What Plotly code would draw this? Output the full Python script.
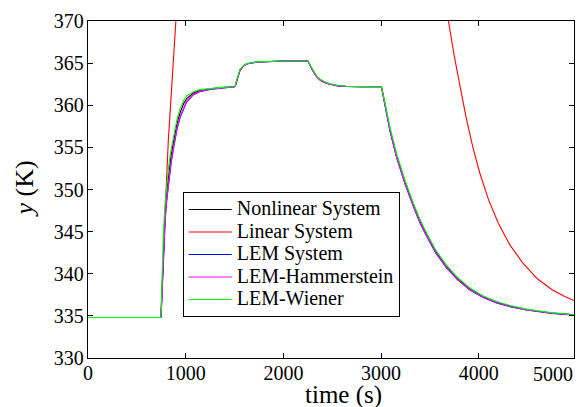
import plotly.graph_objects as go

# ---- data ----
t_main = [0, 747, 752, 760, 772, 790, 805, 825, 850, 873, 910, 942, 980, 1010, 1080, 1146,
          1250, 1400, 1500, 1508, 1521, 1540, 1556, 1590, 1624, 1726, 1850, 2000, 2250, 2258,
          2280, 2306, 2340, 2375, 2420, 2477, 2560, 2648, 2800,
          3000, 3006, 3050, 3091, 3159, 3245, 3330, 3400, 3467, 3560, 3671, 3780, 3910, 4040,
          4183, 4330, 4490, 4620, 4750, 4880, 5000]

y_nonlinear = [334.8, 334.8, 336.5, 339.3, 343.8, 347.5, 349.7, 351.9, 354.0, 355.5, 357.8, 359.1,
               360.2, 360.8, 361.45, 361.75, 361.95, 362.12, 362.2, 362.32, 362.9, 363.65, 364.2,
               364.68, 364.92, 365.13, 365.2, 365.25, 365.25, 365.07, 364.55, 364.05, 363.45,
               363.05, 362.75, 362.52, 362.32, 362.23, 362.2,
               362.2, 362.1, 359.6, 357.2, 354.05, 350.9, 348.2, 346.2, 344.62, 342.64, 340.85,
               339.47, 338.2, 337.32, 336.62, 336.14, 335.75, 335.51, 335.34, 335.22, 335.12]

y_lem = [334.8, 334.8, 335.9, 338.4, 342.4, 346.4, 348.6, 350.9, 353.1, 354.7, 357.1, 358.5,
         359.7, 360.4, 361.25, 361.62, 361.88, 362.08, 362.2, 362.3, 362.85, 363.6, 364.15,
         364.65, 364.9, 365.12, 365.2, 365.25, 365.25, 365.05, 364.5, 364.0, 363.4,
         363.0, 362.7, 362.5, 362.3, 362.22, 362.2,
         362.2, 362.07, 359.42, 356.96, 353.8, 350.66, 348.0, 346.0, 344.44, 342.46, 340.68,
         339.33, 338.07, 337.22, 336.54, 336.06, 335.69, 335.46, 335.3, 335.18, 335.09]

y_hammerstein = [334.8, 334.8, 336.0, 338.5, 342.5, 346.5, 348.7, 351.0, 353.2, 354.8, 357.2, 358.6,
                 359.8, 360.5, 361.3, 361.65, 361.9, 362.1, 362.2, 362.3, 362.85, 363.6, 364.15,
                 364.65, 364.9, 365.12, 365.2, 365.25, 365.25, 365.05, 364.5, 364.0, 363.4,
                 363.0, 362.7, 362.5, 362.3, 362.22, 362.2,
                 362.2, 362.08, 359.45, 357.0, 353.85, 350.7, 348.05, 346.05, 344.48, 342.5, 340.72,
                 339.36, 338.1, 337.24, 336.56, 336.08, 335.7, 335.47, 335.31, 335.19, 335.1]

y_wiener = [334.8, 334.8, 337.0, 340.0, 345.0, 348.5, 350.6, 352.7, 354.7, 356.2, 358.3, 359.6,
            360.6, 361.1, 361.6, 361.85, 362.0, 362.15, 362.2, 362.35, 362.95, 363.7, 364.25,
            364.7, 364.95, 365.15, 365.2, 365.25, 365.25, 365.1, 364.6, 364.1, 363.5,
            363.1, 362.8, 362.55, 362.35, 362.25, 362.2,
            362.2, 362.15, 359.75, 357.4, 354.25, 351.1, 348.4, 346.4, 344.8, 342.8, 341.0,
            339.6, 338.3, 337.4, 336.7, 336.2, 335.8, 335.55, 335.38, 335.25, 335.15]

t_linear = [0, 747, 752, 760, 781, 822, 880, 950, 1100, 1500, 2250, 3000, 3200, 3450, 3600,
            3688, 3750, 3808, 3870, 3940, 4012, 4100, 4200, 4320, 4450, 4600, 4750, 4880, 5000]
y_linear = [334.8, 334.8, 336.5, 339.0, 345.0, 355.8, 370.0, 387.0, 420.0, 480.0, 520.0, 540.0,
            440.0, 395.0, 376.3, 370.0, 365.8, 362.3, 358.6, 355.0, 351.9, 348.8, 346.0, 343.4,
            341.3, 339.4, 338.1, 337.3, 336.7]

series_names = ["Nonlinear System", "Linear System", "LEM System", "LEM-Hammerstein", "LEM-Wiener"]
series_colors = ["#000000", "#ff0000", "#0000ff", "#ff00ff", "#00ff00"]
x_ticks = [0, 1000, 2000, 3000, 4000]
extra_x_tick = 5000
y_ticks = [330, 335, 340, 345, 350, 355, 360, 365, 370]

FONT = "Liberation Serif"

fig = go.Figure()
data = [(t_main, y_nonlinear), (t_linear, y_linear), (t_main, y_lem),
        (t_main, y_hammerstein), (t_main, y_wiener)]
for (xs, ys), name, col in zip(data, series_names, series_colors):
    fig.add_trace(go.Scatter(x=xs, y=ys, mode="lines",
                             name='<span style="font-size:20px">' + name + '</span>',
                             line=dict(color=col, width=1.1)))

L, R, T, B = 88, 2, 21, 49
W, H = 576, 407
pw = W - L - R
ph = H - T - B

axis_common = dict(showline=True, linecolor="black", linewidth=1.3, mirror="ticks",
                   ticks="inside", ticklen=5, tickcolor="black", tickwidth=1,
                   showgrid=False, zeroline=False,
                   tickfont=dict(family=FONT, size=20, color="black"))

fig.update_layout(
    width=W, height=H,
    margin=dict(l=L, r=R, t=T, b=B),
    paper_bgcolor="white", plot_bgcolor="white",
    showlegend=True,
    xaxis=dict(range=[0, 4975], tickvals=x_ticks, ticklabelstandoff=-3, **axis_common),
    yaxis=dict(range=[330, 370], tickvals=y_ticks, ticklabelstandoff=-1, **axis_common),
    legend=dict(x=(182.7 - L) / pw, y=(357.7 - 192) / ph, xanchor="left", yanchor="top",
                bordercolor="black", borderwidth=1, bgcolor="white", itemwidth=43,
                font=dict(family=FONT, size=15, color="black")),
    annotations=[
        dict(text=str(extra_x_tick), x=(553 - L) / pw, xref="paper", y=0, yref="paper",
             yanchor="top", xanchor="center", yshift=-3, showarrow=False,
             font=dict(family=FONT, size=20, color="black")),
        dict(text="time (s)", x=(343 - L) / pw, xref="paper", y=(357.7 - 394.5) / ph, yref="paper",
             xanchor="center", yanchor="middle", showarrow=False,
             font=dict(family=FONT, size=25, color="black")),
        dict(text="<i>y</i> (K)", x=(24 - L) / pw, xref="paper", y=0.5, yref="paper",
             xanchor="center", yanchor="middle", textangle=-90, showarrow=False,
             font=dict(family=FONT, size=26, color="black")),
    ],
)

fig.write_html("out.html", config={"displayModeBar": False},
               post_script="document.body.style.margin='0';document.body.style.overflow='hidden';")
